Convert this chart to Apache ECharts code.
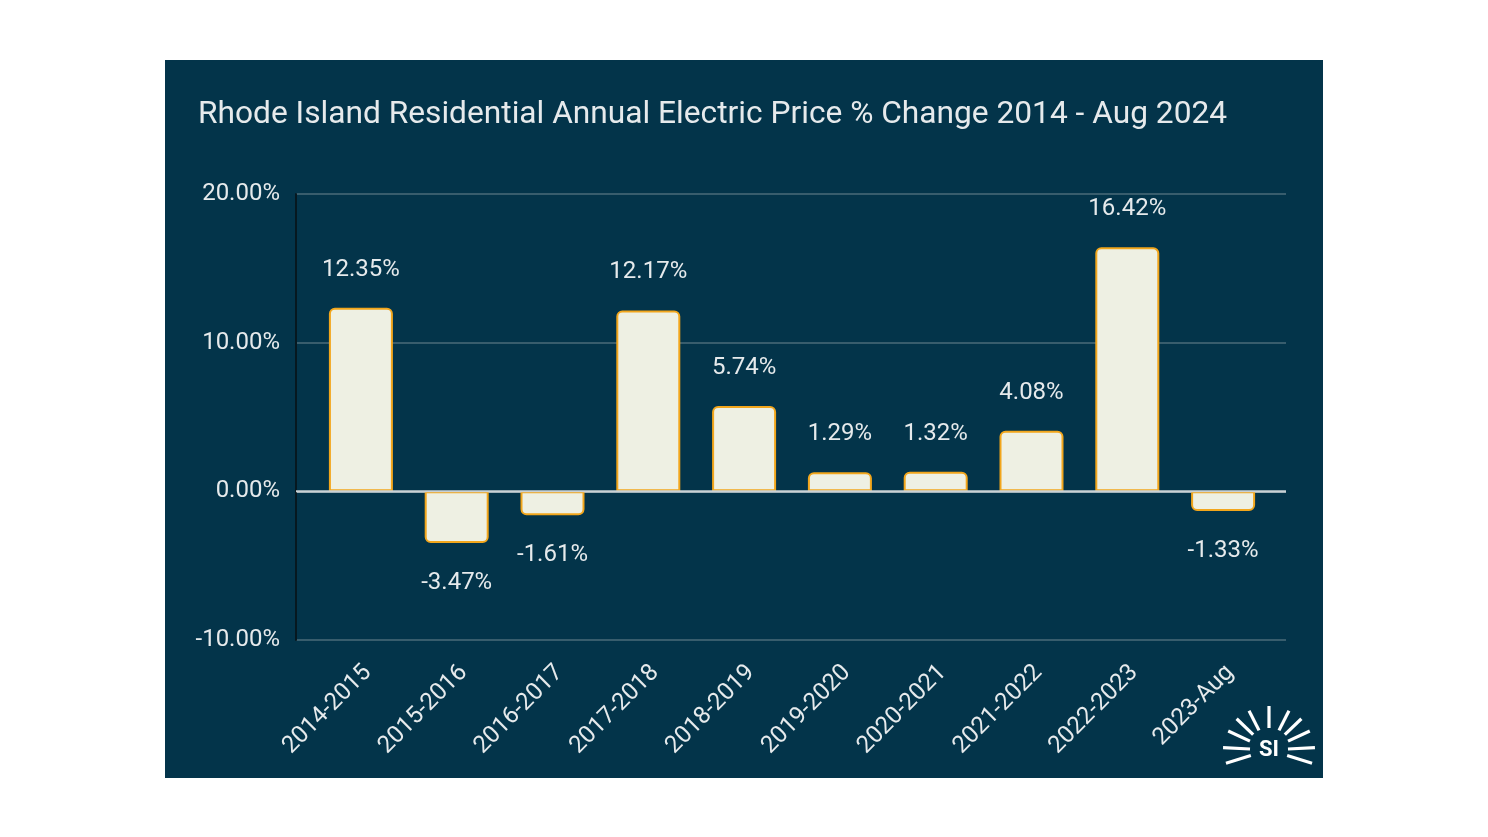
<!DOCTYPE html>
<html><head><meta charset="utf-8">
<script src="https://cdn.jsdelivr.net/npm/echarts@6/dist/echarts.min.js"></script>
<style>html,body{margin:0;padding:0;background:#fff;}#c{width:1488px;height:837px;}</style>
</head><body><div id="c"></div>
<script>
const categories = ['2014-2015','2015-2016','2016-2017','2017-2018','2018-2019','2019-2020','2020-2021','2021-2022','2022-2023','2023-Aug'];
const values = [12.35, -3.47, -1.61, 12.17, 5.74, 1.29, 1.32, 4.08, 16.42, -1.33];
const yTicks = [-10, 0, 10, 20];
const titleText = 'Rhode Island Residential Annual Electric Price % Change 2014 - Aug 2024';

const chart = echarts.init(document.getElementById('c'), null, {renderer:'canvas'});
const textColor = '#e6eaec';
const font = 'Roboto';

// logo rays: [angle, inner radius, outer radius]
const cx = 1269, cy = 750;
const rayDefs = [[197,19,45],[177,19,46],[155,21,45],[136,22,45],[117,22,44],[90,22,44],[63,22,44],[44,22,45],[25,21,45],[3,19,46],[-17,19,45]];
const rays = rayDefs.map(([a,r1,r2]) => {
  const r = a * Math.PI / 180;
  return {type:'line', shape:{x1:cx+r1*Math.cos(r), y1:cy-r1*Math.sin(r), x2:cx+r2*Math.cos(r), y2:cy-r2*Math.sin(r)},
    style:{stroke:'#ffffff', lineWidth:3.2, lineCap:'butt'}, z:10};
});

const gridTop = 194, gridBottom = 197;

chart.setOption({
  backgroundColor:'#ffffff',
  textStyle:{fontFamily:font},
  graphic:[
    {type:'rect', shape:{x:165,y:60,width:1158,height:718}, style:{fill:'#03344a'}, z:-10},
    {type:'text', x:198, y:115, style:{text:titleText, fill:textColor, font:'31.7px Roboto', verticalAlign:'middle'}, z:10},
    ...rays,
    {type:'text', x:cx, y:cy, style:{text:'SI', fill:'#ffffff', font:'bold 22px Roboto', align:'center', verticalAlign:'middle'}, z:10}
  ],
  grid:[
    {left:313, right:217, top:gridTop, bottom:gridBottom, outerBoundsMode:'none', containLabel:false},
    {left:296, right:202, top:gridTop, bottom:gridBottom, outerBoundsMode:'none', containLabel:false},
    {left:320, right:210, top:gridTop, bottom:gridBottom, outerBoundsMode:'none', containLabel:false}
  ],
  xAxis:[{
    gridIndex:0, type:'category', data:categories,
    axisLine:{show:false}, axisTick:{show:false}, axisLabel:{show:false}
  },{
    gridIndex:1, type:'value', min:0, max:1, show:false
  },{
    gridIndex:2, type:'category', data:categories,
    axisLine:{show:false}, axisTick:{show:false},
    axisLabel:{rotate:45, color:textColor, fontSize:24, fontFamily:font, margin:29, interval:0}
  }],
  yAxis:[{
    gridIndex:0, type:'value', min:-10, max:20, interval:10, show:false, splitLine:{show:false}
  },{
    gridIndex:1, type:'value', min:-10, max:20, interval:10,
    axisLine:{show:true, lineStyle:{color:'#061820', width:2}},
    axisTick:{show:false},
    splitLine:{lineStyle:{color:['#4b6b7a','#c9d1d5','#4b6b7a','#4b6b7a'], width:1.5}},
    axisLabel:{color:textColor, fontSize:24, fontFamily:font, margin:16,
      formatter:v=> yTicks.includes(v) ? v.toFixed(2)+'%' : ''}
  },{
    gridIndex:2, type:'value', min:-10, max:20, interval:10, show:false, splitLine:{show:false}
  }],
  series:[{
    type:'bar', xAxisIndex:0, yAxisIndex:0, barWidth:64, z:5,
    data: values.map(v=>({value:v,
      itemStyle:{borderRadius: v>=0?[5,5,0,0]:[0,0,5,5]},
      label:{position: v>=0?'top':'bottom', distance: v>=0?26:28}})),
    itemStyle:{color:'#eef0e3', borderColor:'#f2a61c', borderWidth:2},
    label:{show:true, color:textColor, fontSize:24, fontFamily:font, formatter:p=>p.value.toFixed(2)+'%'}
  },{
    type:'line', xAxisIndex:1, yAxisIndex:1, data:[[0,0],[1,0]], symbol:'none', silent:true, z:6,
    lineStyle:{color:'#c9d1d5', width:2}
  }]
});
</script></body></html>
